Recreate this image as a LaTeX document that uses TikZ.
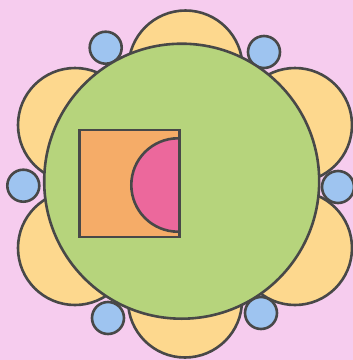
\documentclass[tikz,border=0pt]{standalone}
\usepackage{tikz}

\definecolor{bgpink}{RGB}{246,204,238}
\definecolor{leafgreen}{RGB}{182,212,124}
\definecolor{petalyellow}{RGB}{253,216,142}
\definecolor{dotblue}{RGB}{158,196,240}
\definecolor{boxorange}{RGB}{245,172,104}
\definecolor{moonpink}{RGB}{236,104,156}
\definecolor{outline}{RGB}{72,72,72}

\begin{document}
\begin{tikzpicture}[
    x=1pt, y=-1pt,
    % Common outline for every shape
    shp/.style    = {draw=outline, line width=2.6pt},
    petal/.style  = {shp, fill=petalyellow},
    dot/.style    = {shp, fill=dotblue},
    disc/.style   = {shp, fill=leafgreen}
  ]

  % ===== Background =====
  \fill[bgpink] (0,0) rectangle (353,360);
  \useasboundingbox (0,0) rectangle (353,360);

  % ===== Petals =====
  \foreach \cx/\cy in {185.5/67.5, 185/300.5, 75/125, 75/248, 295/125, 295/248}{
    \draw[petal] (\cx,\cy) circle [radius=57];
  }

  % ===== Small blue dots =====
  \foreach \cx/\cy in {105.7/47.7, 264/52, 23.3/185.7, 338/187, 108/318, 261/313}{
    \draw[dot] (\cx,\cy) circle [radius=16];
  }

  % ===== Big green disc =====
  \draw[disc] (181.7,181.2) circle [radius=137.5];

  % ===== Square with half moon =====
  \fill[boxorange] (79.5,130) rectangle (179.5,237);
  \fill[moonpink] (178,138.3) arc [start angle=270, end angle=90, radius=46.7] -- cycle;
  \draw[shp] (178,138.3) arc [start angle=270, end angle=90, radius=46.7];
  \draw[shp] (79.5,130) rectangle (179.5,237);

\end{tikzpicture}
\end{document}
